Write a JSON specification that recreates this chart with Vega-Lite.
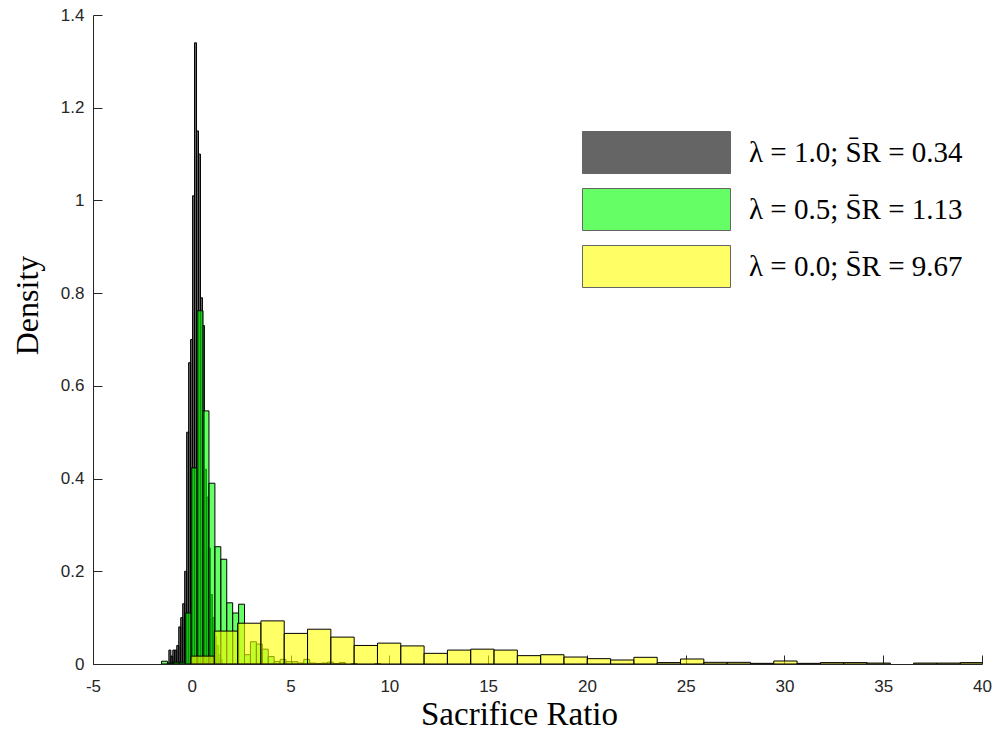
{
  "$schema": "https://vega.github.io/schema/vega-lite/v6.json",
  "width": 889,
  "height": 649,
  "autosize": {"type": "none"},
  "padding": {"left": 93, "top": 15, "right": 18, "bottom": 87},
  "background": "white",
  "config": {"view": {"stroke": null}},
  "data": {"values": [
    {"s": "λ = 1.0; S̄R = 0.34", "x0": -1.16, "x1": -1.06, "d": 0.03},
    {"s": "λ = 1.0; S̄R = 0.34", "x0": -1.06, "x1": -0.96, "d": 0.017},
    {"s": "λ = 1.0; S̄R = 0.34", "x0": -0.96, "x1": -0.86, "d": 0.03},
    {"s": "λ = 1.0; S̄R = 0.34", "x0": -0.86, "x1": -0.76, "d": 0.03},
    {"s": "λ = 1.0; S̄R = 0.34", "x0": -0.76, "x1": -0.66, "d": 0.04},
    {"s": "λ = 1.0; S̄R = 0.34", "x0": -0.66, "x1": -0.56, "d": 0.08},
    {"s": "λ = 1.0; S̄R = 0.34", "x0": -0.56, "x1": -0.46, "d": 0.10},
    {"s": "λ = 1.0; S̄R = 0.34", "x0": -0.46, "x1": -0.36, "d": 0.13},
    {"s": "λ = 1.0; S̄R = 0.34", "x0": -0.36, "x1": -0.26, "d": 0.20},
    {"s": "λ = 1.0; S̄R = 0.34", "x0": -0.26, "x1": -0.16, "d": 0.50},
    {"s": "λ = 1.0; S̄R = 0.34", "x0": -0.16, "x1": -0.06, "d": 0.65},
    {"s": "λ = 1.0; S̄R = 0.34", "x0": -0.06, "x1": 0.04, "d": 0.70},
    {"s": "λ = 1.0; S̄R = 0.34", "x0": 0.04, "x1": 0.14, "d": 1.01},
    {"s": "λ = 1.0; S̄R = 0.34", "x0": 0.14, "x1": 0.24, "d": 1.34},
    {"s": "λ = 1.0; S̄R = 0.34", "x0": 0.24, "x1": 0.34, "d": 1.15},
    {"s": "λ = 1.0; S̄R = 0.34", "x0": 0.34, "x1": 0.44, "d": 1.10},
    {"s": "λ = 1.0; S̄R = 0.34", "x0": 0.44, "x1": 0.54, "d": 0.79},
    {"s": "λ = 1.0; S̄R = 0.34", "x0": 0.54, "x1": 0.64, "d": 0.73},
    {"s": "λ = 1.0; S̄R = 0.34", "x0": 0.64, "x1": 0.74, "d": 0.42},
    {"s": "λ = 1.0; S̄R = 0.34", "x0": 0.74, "x1": 0.84, "d": 0.36},
    {"s": "λ = 1.0; S̄R = 0.34", "x0": 0.84, "x1": 0.94, "d": 0.25},
    {"s": "λ = 1.0; S̄R = 0.34", "x0": 0.94, "x1": 1.04, "d": 0.15},
    {"s": "λ = 1.0; S̄R = 0.34", "x0": 1.04, "x1": 1.14, "d": 0.10},
    {"s": "λ = 1.0; S̄R = 0.34", "x0": 1.14, "x1": 1.24, "d": 0.06},
    {"s": "λ = 1.0; S̄R = 0.34", "x0": 1.24, "x1": 1.34, "d": 0.04},
    {"s": "λ = 1.0; S̄R = 0.34", "x0": 1.34, "x1": 1.44, "d": 0.02},
    {"s": "λ = 1.0; S̄R = 0.34", "x0": 1.44, "x1": 1.54, "d": 0.01},
    {"s": "λ = 0.5; S̄R = 1.13", "x0": -1.53, "x1": -1.23, "d": 0.006},
    {"s": "λ = 0.5; S̄R = 1.13", "x0": -1.23, "x1": -0.93, "d": 0.002},
    {"s": "λ = 0.5; S̄R = 1.13", "x0": -0.93, "x1": -0.63, "d": 0.004},
    {"s": "λ = 0.5; S̄R = 1.13", "x0": -0.63, "x1": -0.33, "d": 0.004},
    {"s": "λ = 0.5; S̄R = 1.13", "x0": -0.33, "x1": -0.03, "d": 0.11},
    {"s": "λ = 0.5; S̄R = 1.13", "x0": -0.03, "x1": 0.27, "d": 0.423},
    {"s": "λ = 0.5; S̄R = 1.13", "x0": 0.27, "x1": 0.57, "d": 0.762},
    {"s": "λ = 0.5; S̄R = 1.13", "x0": 0.57, "x1": 0.87, "d": 0.546},
    {"s": "λ = 0.5; S̄R = 1.13", "x0": 0.87, "x1": 1.17, "d": 0.39},
    {"s": "λ = 0.5; S̄R = 1.13", "x0": 1.17, "x1": 1.47, "d": 0.253},
    {"s": "λ = 0.5; S̄R = 1.13", "x0": 1.47, "x1": 1.77, "d": 0.226},
    {"s": "λ = 0.5; S̄R = 1.13", "x0": 1.77, "x1": 2.07, "d": 0.132},
    {"s": "λ = 0.5; S̄R = 1.13", "x0": 2.07, "x1": 2.37, "d": 0.11},
    {"s": "λ = 0.5; S̄R = 1.13", "x0": 2.37, "x1": 2.67, "d": 0.129},
    {"s": "λ = 0.5; S̄R = 1.13", "x0": 2.67, "x1": 2.97, "d": 0.02},
    {"s": "λ = 0.5; S̄R = 1.13", "x0": 2.97, "x1": 3.27, "d": 0.048},
    {"s": "λ = 0.5; S̄R = 1.13", "x0": 3.27, "x1": 3.57, "d": 0.043},
    {"s": "λ = 0.5; S̄R = 1.13", "x0": 3.57, "x1": 3.87, "d": 0.032},
    {"s": "λ = 0.5; S̄R = 1.13", "x0": 3.87, "x1": 4.17, "d": 0.016},
    {"s": "λ = 0.5; S̄R = 1.13", "x0": 4.17, "x1": 4.47, "d": 0.005},
    {"s": "λ = 0.5; S̄R = 1.13", "x0": 4.47, "x1": 4.77, "d": 0.01},
    {"s": "λ = 0.5; S̄R = 1.13", "x0": 4.77, "x1": 5.07, "d": 0.005},
    {"s": "λ = 0.5; S̄R = 1.13", "x0": 5.07, "x1": 5.37, "d": 0.005},
    {"s": "λ = 0.5; S̄R = 1.13", "x0": 5.37, "x1": 5.67, "d": 0.002},
    {"s": "λ = 0.5; S̄R = 1.13", "x0": 5.67, "x1": 5.97, "d": 0.01},
    {"s": "λ = 0.5; S̄R = 1.13", "x0": 5.97, "x1": 6.27, "d": 0.002},
    {"s": "λ = 0.5; S̄R = 1.13", "x0": 6.27, "x1": 6.57, "d": 0.001},
    {"s": "λ = 0.5; S̄R = 1.13", "x0": 6.57, "x1": 6.87, "d": 0.002},
    {"s": "λ = 0.5; S̄R = 1.13", "x0": 6.87, "x1": 7.17, "d": 0.004},
    {"s": "λ = 0.5; S̄R = 1.13", "x0": 7.17, "x1": 7.47, "d": 0.001},
    {"s": "λ = 0.5; S̄R = 1.13", "x0": 7.47, "x1": 7.77, "d": 0.003},
    {"s": "λ = 0.5; S̄R = 1.13", "x0": 8.07, "x1": 8.37, "d": 0.001},
    {"s": "λ = 0.5; S̄R = 1.13", "x0": 9.27, "x1": 9.57, "d": 0.001},
    {"s": "λ = 0.0; S̄R = 9.67", "x0": -0.04, "x1": 1.14, "d": 0.017},
    {"s": "λ = 0.0; S̄R = 9.67", "x0": 1.14, "x1": 2.32, "d": 0.071},
    {"s": "λ = 0.0; S̄R = 9.67", "x0": 2.32, "x1": 3.50, "d": 0.088},
    {"s": "λ = 0.0; S̄R = 9.67", "x0": 3.50, "x1": 4.68, "d": 0.093},
    {"s": "λ = 0.0; S̄R = 9.67", "x0": 4.68, "x1": 5.86, "d": 0.066},
    {"s": "λ = 0.0; S̄R = 9.67", "x0": 5.86, "x1": 7.04, "d": 0.075},
    {"s": "λ = 0.0; S̄R = 9.67", "x0": 7.04, "x1": 8.22, "d": 0.058},
    {"s": "λ = 0.0; S̄R = 9.67", "x0": 8.22, "x1": 9.40, "d": 0.040},
    {"s": "λ = 0.0; S̄R = 9.67", "x0": 9.40, "x1": 10.58, "d": 0.045},
    {"s": "λ = 0.0; S̄R = 9.67", "x0": 10.58, "x1": 11.76, "d": 0.039},
    {"s": "λ = 0.0; S̄R = 9.67", "x0": 11.76, "x1": 12.94, "d": 0.023},
    {"s": "λ = 0.0; S̄R = 9.67", "x0": 12.94, "x1": 14.12, "d": 0.030},
    {"s": "λ = 0.0; S̄R = 9.67", "x0": 14.12, "x1": 15.30, "d": 0.032},
    {"s": "λ = 0.0; S̄R = 9.67", "x0": 15.30, "x1": 16.48, "d": 0.030},
    {"s": "λ = 0.0; S̄R = 9.67", "x0": 16.48, "x1": 17.66, "d": 0.018},
    {"s": "λ = 0.0; S̄R = 9.67", "x0": 17.66, "x1": 18.84, "d": 0.020},
    {"s": "λ = 0.0; S̄R = 9.67", "x0": 18.84, "x1": 20.02, "d": 0.015},
    {"s": "λ = 0.0; S̄R = 9.67", "x0": 20.02, "x1": 21.20, "d": 0.0115},
    {"s": "λ = 0.0; S̄R = 9.67", "x0": 21.20, "x1": 22.38, "d": 0.0086},
    {"s": "λ = 0.0; S̄R = 9.67", "x0": 22.38, "x1": 23.56, "d": 0.0144},
    {"s": "λ = 0.0; S̄R = 9.67", "x0": 23.56, "x1": 24.74, "d": 0.003},
    {"s": "λ = 0.0; S̄R = 9.67", "x0": 24.74, "x1": 25.92, "d": 0.0108},
    {"s": "λ = 0.0; S̄R = 9.67", "x0": 25.92, "x1": 27.10, "d": 0.0036},
    {"s": "λ = 0.0; S̄R = 9.67", "x0": 27.10, "x1": 28.28, "d": 0.0036},
    {"s": "λ = 0.0; S̄R = 9.67", "x0": 28.28, "x1": 29.46, "d": 0.0014},
    {"s": "λ = 0.0; S̄R = 9.67", "x0": 29.46, "x1": 30.64, "d": 0.0065},
    {"s": "λ = 0.0; S̄R = 9.67", "x0": 30.64, "x1": 31.82, "d": 0.0014},
    {"s": "λ = 0.0; S̄R = 9.67", "x0": 31.82, "x1": 33.00, "d": 0.003},
    {"s": "λ = 0.0; S̄R = 9.67", "x0": 33.00, "x1": 34.18, "d": 0.003},
    {"s": "λ = 0.0; S̄R = 9.67", "x0": 34.18, "x1": 35.36, "d": 0.002},
    {"s": "λ = 0.0; S̄R = 9.67", "x0": 36.54, "x1": 37.72, "d": 0.002},
    {"s": "λ = 0.0; S̄R = 9.67", "x0": 37.72, "x1": 38.90, "d": 0.002},
    {"s": "λ = 0.0; S̄R = 9.67", "x0": 38.90, "x1": 40.08, "d": 0.003}
  ]},
  "mark": {"type": "rect", "fillOpacity": 0.6, "stroke": "black", "strokeWidth": 1, "clip": true},
  "encoding": {
    "x": {
      "field": "x0", "type": "quantitative",
      "scale": {"domain": [-5, 40], "nice": false, "zero": false},
      "axis": {
        "values": [-5, 0, 5, 10, 15, 20, 25, 30, 35, 40],
        "labelExpr": "'' + datum.value",
        "title": "Sacrifice Ratio",
        "titleFont": "Liberation Serif", "titleFontSize": 33, "titleFontWeight": "normal", "titleColor": "#000000",
        "titlePadding": 4, "titleX": 426,
        "labelFont": "Liberation Sans", "labelFontSize": 17, "labelColor": "#262626",
        "labelPadding": 23, "labelFlush": false, "labelOverlap": false,
        "tickSize": -9, "tickColor": "#262626", "tickWidth": 1,
        "domainColor": "#262626", "domainWidth": 1, "grid": false
      }
    },
    "x2": {"field": "x1"},
    "y": {
      "field": "d", "type": "quantitative",
      "scale": {"domain": [0, 1.4], "nice": false},
      "axis": {
        "values": [0, 0.2, 0.4, 0.6, 0.8, 1, 1.2, 1.4],
        "labelExpr": "'' + datum.value",
        "title": "Density",
        "titleFont": "Liberation Serif", "titleFontSize": 32, "titleFontWeight": "normal", "titleColor": "#000000",
        "titlePadding": 16, "titleY": 290,
        "labelFont": "Liberation Sans", "labelFontSize": 17, "labelColor": "#262626",
        "labelPadding": 18, "labelFlush": false, "labelOverlap": false,
        "tickSize": -9, "tickColor": "#262626", "tickWidth": 1,
        "domainColor": "#262626", "domainWidth": 1, "grid": false
      }
    },
    "y2": {"datum": 0},
    "fill": {
      "field": "s", "type": "nominal",
      "scale": {
        "domain": ["λ = 1.0; S̄R = 0.34", "λ = 0.5; S̄R = 1.13", "λ = 0.0; S̄R = 9.67"],
        "range": ["#000000", "#00ff00", "#ffff00"]
      },
      "legend": {
        "orient": "none", "legendX": 542, "legendY": 116,
        "title": null, "padding": 0,
        "symbolType": "M-3.524,-1L3.524,-1L3.524,1L-3.524,1Z",
        "symbolSize": 1764,
        "symbolOpacity": 0.6,
        "symbolStrokeColor": "#000000", "symbolStrokeWidth": 1,
        "labelFont": "Liberation Serif", "labelFontSize": 29, "labelColor": "#000000",
        "labelOffset": 71, "labelLimit": 400, "rowPadding": 10
      }
    }
  }
}
